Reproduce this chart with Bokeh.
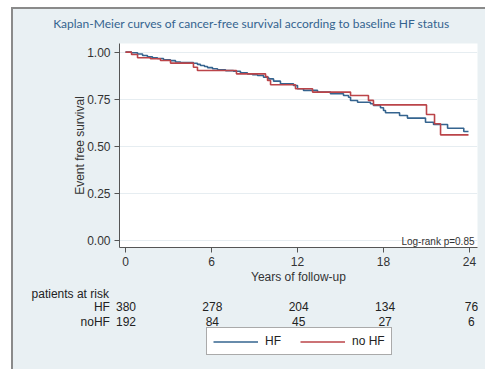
from bokeh.plotting import figure
from bokeh.models import (Range1d, FixedTicker, NumeralTickFormatter, Label,
                          ColumnDataSource, Legend, LegendItem)
from bokeh.core.properties import value
from bokeh.layouts import column
from bokeh.embed import file_html
from bokeh.resources import INLINE

# ---- data ----
hf_time = [0, 0.42, 0.84, 1.19, 1.53, 1.88, 2.23, 2.65, 3.14, 3.49, 3.84, 4.74, 5.02, 5.23,
           5.51, 5.72, 6.07, 6.42, 6.98, 7.53, 8.02, 8.51, 8.86, 9.21, 9.63, 9.98, 10.33,
           10.81, 11.72, 12.0, 12.42, 13.4, 14.3, 15.21, 15.56, 15.70, 16.19, 17.09, 17.30,
           17.79, 18.0, 18.14, 19.12, 19.67, 20.93, 21.49, 22.47, 23.6, 23.93]
hf_surv = [1.0, 0.997, 0.99, 0.982, 0.975, 0.97, 0.966, 0.96, 0.955, 0.948, 0.945, 0.941, 0.935,
           0.929, 0.924, 0.918, 0.912, 0.906, 0.902, 0.899, 0.89, 0.885, 0.88, 0.876, 0.867,
           0.858, 0.846, 0.832, 0.823, 0.806, 0.797, 0.788, 0.779, 0.770, 0.761, 0.743, 0.734,
           0.726, 0.717, 0.705, 0.69, 0.678, 0.664, 0.65, 0.628, 0.616, 0.596, 0.579, 0.579]

nohf_time = [0, 0.42, 0.84, 1.74, 2.44, 3.14, 4.74, 5.02, 7.74, 9.77, 9.91, 10.12, 11.86,
             13.05, 15.70, 16.95, 17.30, 21.0, 21.56, 21.98, 23.93]
nohf_surv = [1.0, 0.988, 0.970, 0.965, 0.956, 0.942, 0.920, 0.903, 0.885, 0.87, 0.85, 0.827,
             0.806, 0.788, 0.770, 0.744, 0.72, 0.669, 0.62, 0.561, 0.561]

x_ticks = [0, 6, 12, 18, 24]
y_ticks = [0, 0.25, 0.5, 0.75, 1.0]

risk_times = [0, 6, 12, 18, 24]
risk_hf = [380, 278, 204, 134, 76]
risk_nohf = [192, 84, 45, 27, 6]

title_text = "Kaplan-Meier curves of cancer-free survival according to baseline HF status"
x_label = "Years of follow-up"
y_label = "Event free survival"
logrank_text = "Log-rank p=0.85"
risk_title = "patients at risk"
group_names = ["HF", "noHF"]
legend_names = ["HF", "no HF"]

BLUE = "#35648f"
RED = "#bb4449"
BG = "#e9f0f3"
FONT = "Liberation Sans"
TXT = "#222222"

W = 472

# ---------- title strip ----------
p0 = figure(width=W, height=34, output_backend="svg", toolbar_location=None,
            x_range=Range1d(0, W), y_range=Range1d(34, 0),
            x_axis_type=None, y_axis_type=None, min_border=0,
            min_border_left=0, min_border_right=0, min_border_top=0, min_border_bottom=0,
            background_fill_color=BG, border_fill_color=BG)
p0.outline_line_color = None
p0.frame_align = False
p0.text(x=[238], y=[14], text=[title_text], text_align="center", text_baseline="middle",
        text_font=value("Lato"), text_font_size=value("12px"), text_color="#34638f")

# ---------- main KM plot ----------
p = figure(width=W, height=245, output_backend="svg", toolbar_location=None,
           x_range=Range1d(-0.419, 24.558), y_range=Range1d(-0.037, 1.046),
           min_border_left=106, min_border_right=8, min_border_top=0, min_border_bottom=41,
           background_fill_color="white", border_fill_color=BG)
p.outline_line_color = None
p.frame_align = False

p.xaxis.ticker = FixedTicker(ticks=x_ticks)
p.yaxis.ticker = FixedTicker(ticks=y_ticks)
p.yaxis.formatter = NumeralTickFormatter(format="0.00")
for ax in (p.xaxis[0], p.yaxis[0]):
    ax.axis_line_color = "#555555"
    ax.major_tick_line_color = "#555555"
    ax.major_tick_out = 5
    ax.major_tick_in = 0
    ax.minor_tick_out = 0
    ax.minor_tick_in = 0
    ax.major_label_text_font = FONT
    ax.major_label_text_font_size = "12px"
    ax.major_label_text_color = "#333333"
    ax.axis_label_text_font = FONT
    ax.axis_label_text_font_size = "12px"
    ax.axis_label_text_font_style = "normal"
    ax.axis_label_text_color = "#333333"
    ax.major_label_standoff = 4
p.xaxis.axis_label = x_label
p.yaxis.axis_label = y_label
p.xaxis.axis_label_standoff = 1
p.yaxis.axis_label_standoff = -3

p.xgrid.grid_line_color = None
p.ygrid.grid_line_color = "#e6edf1"
p.ygrid.grid_line_width = 1

p.step(hf_time, hf_surv, mode="after", line_color=BLUE, line_width=1.6)
p.step(nohf_time, nohf_surv, mode="after", line_color=RED, line_width=1.6)

p.add_layout(Label(x=24.35, y=-0.005, text=logrank_text, text_align="right",
                   text_baseline="middle", text_font=FONT, text_font_size="10px",
                   text_color="#333333"))

# ---------- risk table + legend strip ----------
H2 = 81
p2 = figure(width=W, height=H2, output_backend="svg", toolbar_location=None,
            x_range=Range1d(-7.814, 24.977), y_range=Range1d(H2, 0),
            x_axis_type=None, y_axis_type=None, min_border=0,
            min_border_left=0, min_border_right=0, min_border_top=0, min_border_bottom=0,
            background_fill_color=BG, border_fill_color=BG)
p2.outline_line_color = None
p2.frame_align = False

txt_kw = dict(text_baseline="middle", text_font=value(FONT), text_font_size=value("12px"),
              text_color=TXT)
p2.text(x=[-6.56], y=[5], text=[risk_title], text_align="left", **txt_kw)
p2.text(x=[-1.116, -1.116], y=[18, 33], text=group_names, text_align="right", **txt_kw)
src_hf = ColumnDataSource(dict(t=risk_times, y=[18] * len(risk_times),
                               n=[str(v) for v in risk_hf]))
src_nohf = ColumnDataSource(dict(t=risk_times, y=[33] * len(risk_times),
                                 n=[str(v) for v in risk_nohf]))
p2.text(x="t", y="y", text="n", source=src_hf, text_align="center", **txt_kw)
p2.text(x="t", y="y", text="n", source=src_nohf, text_align="center", **txt_kw)

# legend-only renderers (kept outside the visible range)
l_hf = p2.line(x=[-60, -59], y=[-60, -60], line_color=BLUE, line_width=1.6)
l_nohf = p2.line(x=[-60, -59], y=[-60, -60], line_color=RED, line_width=1.6)
legend = Legend(items=[LegendItem(label=legend_names[0], renderers=[l_hf]),
                       LegendItem(label=legend_names[1], renderers=[l_nohf])],
                orientation="horizontal", location=(193, 14))
legend.padding = 6
legend.spacing = 15
legend.glyph_width = 45
legend.glyph_height = 11
legend.label_height = 11
legend.label_standoff = 7
legend.label_text_font = FONT
legend.label_text_font_size = "12px"
legend.label_text_color = TXT
legend.border_line_color = "#555555"
legend.border_line_width = 1
legend.background_fill_color = "white"
legend.background_fill_alpha = 1.0
legend.margin = 0
p2.add_layout(legend, "center")

inner = column(p0, p, p2, spacing=0, margin=(2, 0, 0, 2),
               styles={"background-color": BG})
lay = column(inner, spacing=0, margin=(7, 0, 0, 11),
             styles={"background-color": "#8a8a8a"})

open("out.html", "w").write(file_html(lay, INLINE))
